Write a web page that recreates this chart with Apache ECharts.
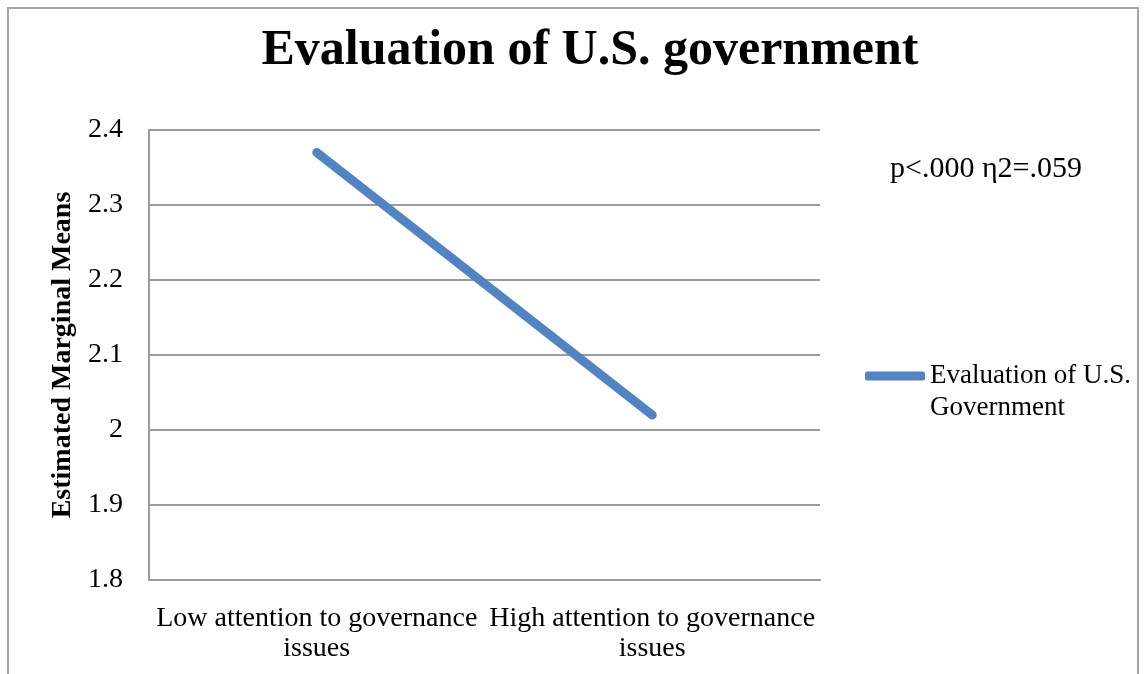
<!DOCTYPE html>
<html>
<head>
<meta charset="utf-8">
<script src="https://cdn.jsdelivr.net/npm/echarts@6/dist/echarts.min.js"></script>
<style>
  html, body { margin: 0; padding: 0; background: #fff; }
  #chart { width: 1147px; height: 674px; }
</style>
</head>
<body>
<div id="chart"></div>
<script>
// data
const categories = ['Low attention to governance\nissues', 'High attention to governance\nissues']
const seriesName = 'Evaluation of U.S. Government'
const meanValues = [2.37, 2.02]
const yTicks = [1.8, 1.9, 2.0, 2.1, 2.2, 2.3, 2.4]
const statNote = 'p<.000 η2=.059'

const font = '"Liberation Serif", "DejaVu Serif", serif'
const gridGray = '#9c9c9c'
const lineBlue = '#5283c2'

const chart = echarts.init(document.getElementById('chart'))

chart.setOption({
  backgroundColor: '#fff',
  animation: false,
  title: {
    text: 'Evaluation of U.S. government',
    left: 585,
    textAlign: 'center',
    top: 21,
    textStyle: { fontFamily: font, fontSize: 50, fontWeight: 'bold', color: '#000' }
  },
  legend: {
    left: 865,
    top: 328,
    padding: 0,
    itemWidth: 60,
    itemHeight: 9,
    itemGap: 0,
    icon: 'roundRect',
    data: [seriesName],
    // empty first line keeps the icon level with "Evaluation of U.S."
    formatter: () => ' \nEvaluation of U.S.\nGovernment',
    textStyle: { fontFamily: font, fontSize: 27, color: '#000', lineHeight: 32 }
  },
  grid: { left: 149, right: 327, top: 130, bottom: 94 },
  xAxis: {
    type: 'category',
    data: categories,
    boundaryGap: true,
    axisLine: { show: true, lineStyle: { color: gridGray, width: 2 } },
    axisTick: { show: false },
    axisLabel: {
      interval: 0,
      margin: 24,
      lineHeight: 30,
      fontFamily: font, fontSize: 28, color: '#000'
    }
  },
  yAxis: {
    type: 'value',
    min: yTicks[0],
    max: yTicks[yTicks.length - 1],
    interval: 0.1,
    name: 'Estimated Marginal Means',
    nameLocation: 'middle',
    nameGap: 72,
    nameTextStyle: { fontFamily: font, fontSize: 28, fontWeight: 'bold', color: '#000' },
    axisLine: { show: true, lineStyle: { color: gridGray, width: 2 } },
    axisTick: { show: false },
    splitLine: { lineStyle: { color: gridGray, width: 2 } },
    axisLabel: {
      margin: 26,
      padding: [8, 0, 0, 0],
      fontFamily: font, fontSize: 28, color: '#000',
      formatter: (v) => String(Math.round(v * 10) / 10)
    }
  },
  series: [{
    name: seriesName,
    type: 'line',
    data: meanValues,
    showSymbol: false,
    symbol: 'none',
    color: lineBlue,
    lineStyle: { width: 9, cap: 'round', color: lineBlue }
  }],
  graphic: [
    {
      type: 'rect',
      shape: { x: 8, y: 8, width: 1130, height: 720 },
      style: { fill: 'none', stroke: '#a6a6a6', lineWidth: 2 },
      silent: true
    },
    {
      type: 'text',
      left: 890,
      top: 154,
      style: { text: statNote, fontFamily: font, fontSize: 30, fill: '#000' }
    }
  ]
})
</script>
</body>
</html>
